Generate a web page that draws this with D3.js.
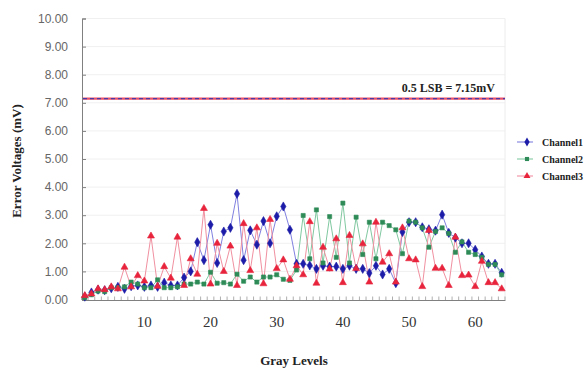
<!DOCTYPE html>
<html><head><meta charset="utf-8">
<script src="https://cdn.jsdelivr.net/npm/d3@7"></script>
<style>body{margin:0;background:#fff}svg{display:block}</style>
</head><body>
<svg id="c" width="587" height="369"></svg>
<script>
const grayLevels = d3.range(1, 65);
const channel1 = [0.10,0.25,0.35,0.33,0.40,0.45,0.38,0.47,0.50,0.45,0.50,0.45,0.60,0.50,0.50,0.78,1.00,2.04,1.40,2.66,1.30,2.42,2.55,3.76,1.40,2.46,1.95,2.79,2.00,2.96,3.31,2.48,1.27,1.27,1.21,1.09,1.20,1.17,1.17,1.09,1.20,1.09,1.09,0.94,1.20,0.89,1.09,0.58,2.40,2.75,2.75,2.57,2.50,2.45,3.02,2.37,2.20,2.00,2.00,1.77,1.53,1.27,1.27,0.95];
const channel2 = [0.07,0.17,0.30,0.28,0.42,0.42,0.45,0.62,0.55,0.42,0.42,0.70,0.42,0.42,0.45,0.55,0.55,0.62,0.55,0.97,0.58,0.60,0.55,0.90,0.65,0.80,0.62,0.80,0.80,0.88,0.72,0.68,1.05,2.99,1.45,3.19,1.30,2.95,1.50,3.43,1.30,2.93,1.60,2.75,1.45,2.75,2.63,2.48,1.63,2.79,2.75,2.55,1.86,2.42,2.55,2.35,1.68,2.05,1.68,1.60,1.50,1.25,1.25,0.88];
const channel3 = [0.14,0.20,0.38,0.35,0.45,0.38,1.15,0.45,0.85,0.66,2.26,0.47,1.17,0.76,2.22,0.50,1.45,0.90,3.24,0.55,2.00,1.00,1.90,0.50,2.70,1.03,2.55,0.56,2.85,1.10,1.41,0.72,1.20,0.88,2.77,0.58,1.86,1.09,2.16,0.60,2.28,1.10,1.98,0.62,2.75,1.33,1.63,0.62,2.55,1.45,1.41,0.46,2.46,1.11,1.11,0.50,2.22,0.85,0.87,0.46,1.36,0.60,0.60,0.38];
const seriesNames = ["Channel1","Channel2","Channel3"];
const yTicks = [0,1,2,3,4,5,6,7,8,9,10];
const xTickLabels = [10,20,30,40,50,60];
const refValue = 7.15;
const refLabel = "0.5 LSB = 7.15mV";

const svg = d3.select("#c");
const x = d3.scaleBand().domain(grayLevels).range([81.5, 505]);
const y = d3.scaleLinear().domain([0,10]).range([299.5, 18.5]);
const cx = k => x(k) + x.bandwidth()/2;

const colors = ["#1c1ca8","#2e8b57","#e8243c"];
const lineColors = ["#8080e0","#80c8a0","#f090a0"];
const shapes = [d3.symbolDiamond, d3.symbolSquare, d3.symbolTriangle];
const sizes = [24, 17, 21];
const data = [channel1, channel2, channel3];

// gridlines
svg.append("g").selectAll("line").data(yTicks.filter(d=>d>0)).join("line")
  .attr("x1",82).attr("x2",505).attr("y1",d=>y(d)).attr("y2",d=>y(d))
  .attr("stroke","#f0f0f0").attr("stroke-width",1);
svg.append("line").attr("x1",505).attr("x2",505).attr("y1",y(10)).attr("y2",y(0))
  .attr("stroke","#ececec");

// y axis
const yAxis = svg.append("g").attr("transform","translate(82,0)")
  .call(d3.axisRight(y).tickValues(yTicks).tickSize(4).tickFormat(""));
yAxis.select(".domain").attr("stroke","#808080");
yAxis.selectAll(".tick line").attr("stroke","#808080");
svg.append("g").selectAll("text").data(yTicks).join("text")
  .attr("x",68).attr("y",d=>y(d)).attr("dy","0.35em").attr("text-anchor","end")
  .attr("font-family","Liberation Sans, Arial, sans-serif").attr("font-size",12)
  .attr("fill","#666").text(d=>d.toFixed(2));

// x axis
const xAxis = svg.append("g").attr("transform","translate(0,300)")
  .call(d3.axisBottom(x).tickValues([]).tickSizeOuter(0));
xAxis.select(".domain").attr("stroke","#808080");
const bounds = grayLevels.map(k=>x(k)).concat([x.range()[1]]);
svg.append("g").selectAll("line").data(bounds).join("line")
  .attr("x1",d=>d).attr("x2",d=>d).attr("y1",296.5).attr("y2",300)
  .attr("stroke","#9a9a9a").attr("stroke-width",0.8);
svg.append("g").selectAll("text").data(xTickLabels).join("text")
  .attr("x",d=>cx(d)).attr("y",322).attr("dy","0.35em").attr("text-anchor","middle")
  .attr("font-family","Liberation Serif, Times New Roman, serif").attr("font-size",15)
  .attr("fill","#333").text(d=>d);

// reference line
svg.append("line").attr("x1",83).attr("x2",505).attr("y1",y(refValue)).attr("y2",y(refValue))
  .attr("stroke","#e8506a").attr("stroke-width",2.2);
svg.append("line").attr("x1",83).attr("x2",505).attr("y1",y(refValue)).attr("y2",y(refValue))
  .attr("stroke","#4a3aa8").attr("stroke-width",1.3).attr("stroke-dasharray","4,3");
svg.append("text").attr("x",495).attr("y",y(refValue)-7).attr("text-anchor","end")
  .attr("font-family","Liberation Serif, Times New Roman, serif").attr("font-weight","bold")
  .attr("font-size",12).attr("fill","#222").text(refLabel);

// series
const line = d3.line().x((d,i)=>cx(grayLevels[i])).y(d=>y(d));
data.forEach((vals,s)=>{
  svg.append("path").datum(vals).attr("d",line).attr("fill","none")
    .attr("stroke",lineColors[s]).attr("stroke-width",1);
});
data.forEach((vals,s)=>{
  svg.append("g").selectAll("path").data(vals).join("path")
    .attr("transform",(d,i)=>`translate(${cx(grayLevels[i])},${y(d)})`)
    .attr("d",d3.symbol().type(shapes[s]).size(sizes[s]))
    .attr("fill",colors[s]).attr("stroke",colors[s]).attr("stroke-width",0.6);
});

// legend
const leg = svg.append("g");
seriesNames.forEach((n,s)=>{
  const ly = 142 + s*17;
  leg.append("line").attr("x1",517).attr("x2",533).attr("y1",ly).attr("y2",ly)
    .attr("stroke",lineColors[s]).attr("stroke-width",1.1);
  leg.append("path").attr("transform",`translate(527,${ly})`)
    .attr("d",d3.symbol().type(shapes[s]).size(sizes[s])).attr("fill",colors[s]);
  leg.append("text").attr("x",542).attr("y",ly).attr("dy","0.35em")
    .attr("font-family","Liberation Serif, Times New Roman, serif").attr("font-weight","bold")
    .attr("font-size",10).attr("fill","#222").text(n);
});

// axis titles
svg.append("text").attr("transform","translate(21,161) rotate(-90)").attr("text-anchor","middle")
  .attr("font-family","Liberation Serif, Times New Roman, serif").attr("font-weight","bold")
  .attr("font-size",13).attr("fill","#222").text("Error Voltages (mV)");
svg.append("text").attr("x",294).attr("y",360).attr("dy","0.35em").attr("text-anchor","middle")
  .attr("font-family","Liberation Serif, Times New Roman, serif").attr("font-weight","bold")
  .attr("font-size",13).attr("fill","#222").text("Gray Levels");
</script>
</body></html>
